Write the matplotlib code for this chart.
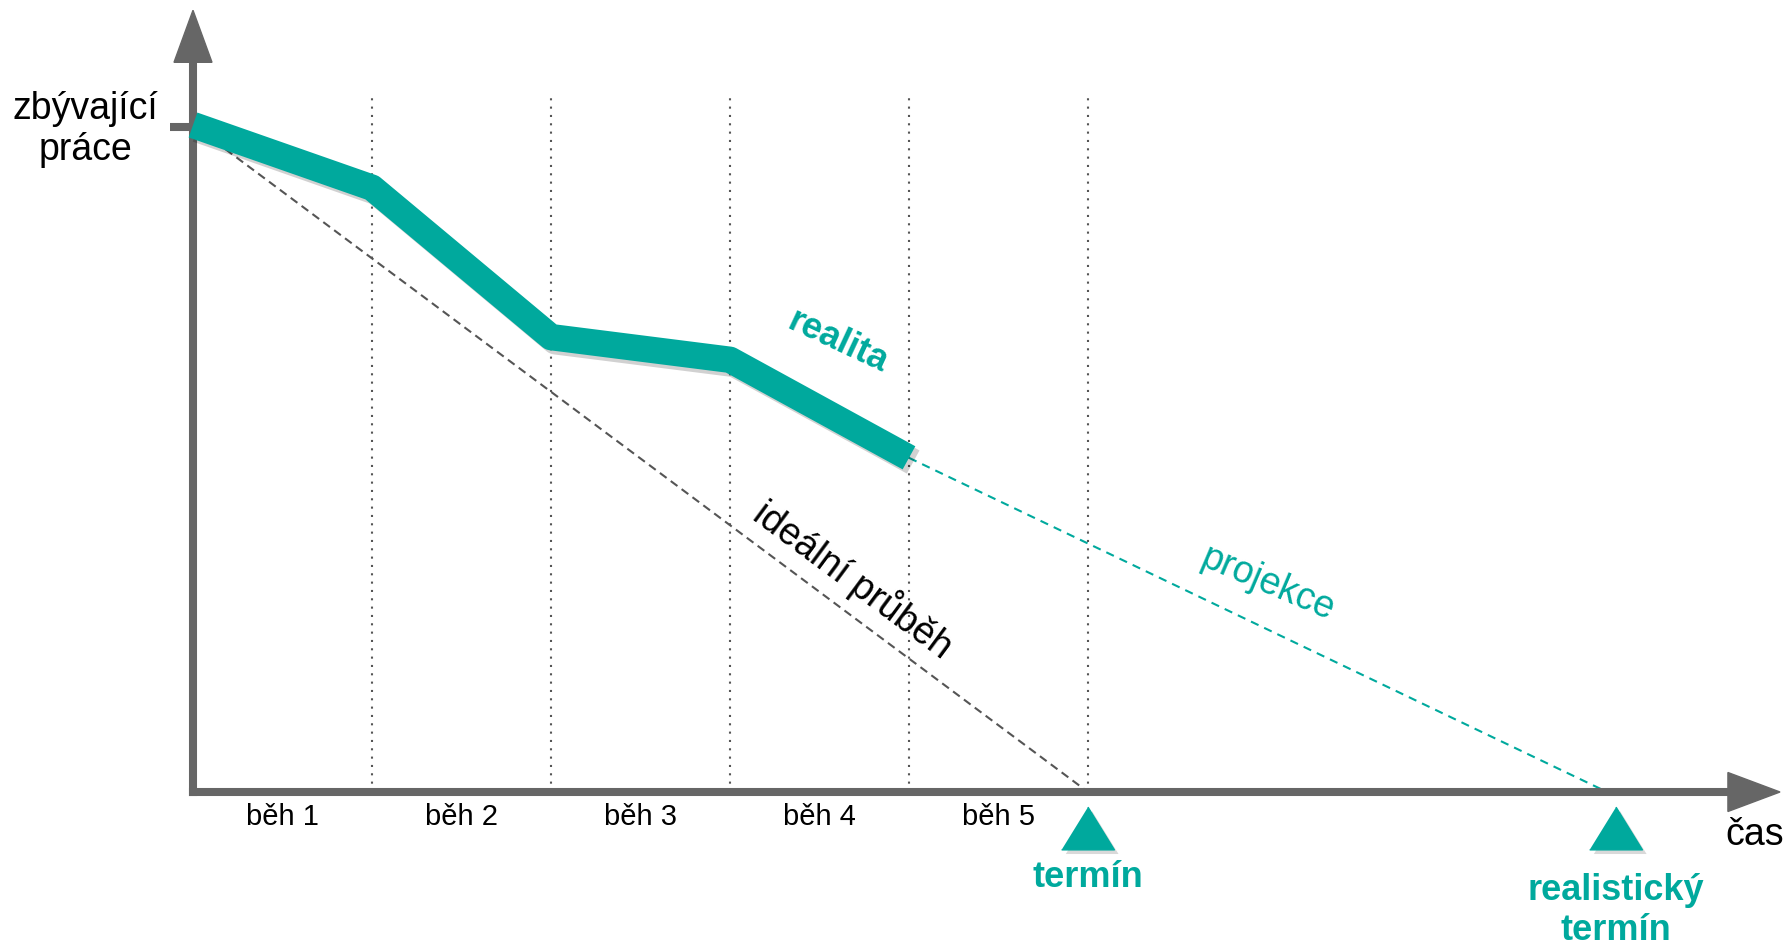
import matplotlib
matplotlib.use("Agg")
import matplotlib.pyplot as plt
import matplotlib.patheffects as pe
from matplotlib.patches import Polygon

plt.rcParams['font.family'] = ['Liberation Sans', 'DejaVu Sans']

# data (x = sprints, y = remaining work)
sprint_labels = ["běh 1", "běh 2", "běh 3", "běh 4", "běh 5"]
sprint_edges = [1, 2, 3, 4, 5]
real_x = [0, 1, 2, 3, 4]
real_y = [100, 90.6, 68.2, 64.8, 50.1]
ideal_x = [0, 5]
ideal_y = [100, 0]
proj_x = [4, 7.9]
proj_y = [50.1, 0]
deadline_x = 5
real_deadline_x = 7.95

TEAL = "#00A99D"
AXIS = "#666666"

fig = plt.figure(figsize=(17.87, 9.43), dpi=100)
ax = fig.add_axes([0, 0, 1, 1])
# 1 sprint = 179 px, 1 unit of work = 6.67 px, origin at pixel (193, 792)
ax.set_xlim(-193 / 179, (1787 - 193) / 179)
ax.set_ylim((792 - 943) / 6.67, 792 / 6.67)
ax.axis("off")

px = 1 / 179
py = 1 / 6.67

# sprint boundaries
for e in sprint_edges:
    ax.plot([e, e], [0, 104.8], color="#555555", lw=1.5, dashes=(1, 3), zorder=1)

# ideal burndown
ax.plot(ideal_x, ideal_y, color="#555555", lw=1.5, dashes=(4, 2.5), zorder=2)
# projection
ax.plot(proj_x, proj_y, color=TEAL, lw=1.5, dashes=(4, 3), zorder=2)

# reality
ax.plot(real_x, real_y, color=TEAL, lw=19, solid_capstyle="butt",
        solid_joinstyle="round", zorder=4,
        path_effects=[pe.SimpleLineShadow(offset=(3, -3), shadow_color="black", alpha=0.18),
                      pe.Normal()])

# axes with arrows
ax.plot([0, 0], [0, 109.4], color=AXIS, lw=5.8, solid_capstyle="projecting", zorder=3)
ax.plot([0, 8.575], [0, 0], color=AXIS, lw=5.8, solid_capstyle="projecting", zorder=3)
ax.plot([-23 * px, 0], [99.7, 99.7], color=AXIS, lw=5.8, solid_capstyle="butt", zorder=3)
ax.add_patch(Polygon([[-19 * px, 109.4], [19 * px, 109.4], [0, 117.2]],
                     closed=True, color=AXIS, zorder=3))
ax.add_patch(Polygon([[8.575, 19.5 * py], [8.575, -19.5 * py], [8.866, 0]],
                     closed=True, color=AXIS, zorder=3))

# deadline markers
tri = [(-1, -0.81), (1, -0.81), (0, 0.81)]
for dx in [deadline_x, real_deadline_x]:
    ax.plot([dx], [-5.47], marker=tri, markersize=38, color=TEAL, lw=0, zorder=5,
            path_effects=[pe.SimplePatchShadow(offset=(3, -3), shadow_rgbFace="black", alpha=0.15),
                          pe.Normal()])

# labels
for i, lab in enumerate(sprint_labels):
    ax.text(i + 0.5, -3.7, lab, ha="center", va="center", fontsize=21, color="black")

ax.text(-0.603, 99.3, "zbývající\npráce", ha="center", va="center",
        fontsize=27, linespacing=1.2, color="black")
ax.text(8.726, -6.5, "čas", ha="center", va="center", fontsize=27, color="black")

ax.text(deadline_x, -12.8, "termín", ha="center", va="center", fontsize=26,
        fontweight="bold", color=TEAL)
ax.text(real_deadline_x, -17.8, "realistický\ntermín", ha="center", va="center",
        fontsize=26, fontweight="bold", color=TEAL, linespacing=1.2)

ax.text(3.603, 67.5, "realita", ha="center", va="center", fontsize=26,
        fontweight="bold", color=TEAL, rotation=-25, rotation_mode="anchor")
ax.text(3.687, 31.8, "ideální průběh", ha="center", va="center", fontsize=27,
        color="black", rotation=-36.5, rotation_mode="anchor")
ax.text(6.006, 31.2, "projekce", ha="center", va="center", fontsize=27,
        color=TEAL, rotation=-23, rotation_mode="anchor")

fig.savefig("out.png", dpi=100, facecolor="white")
